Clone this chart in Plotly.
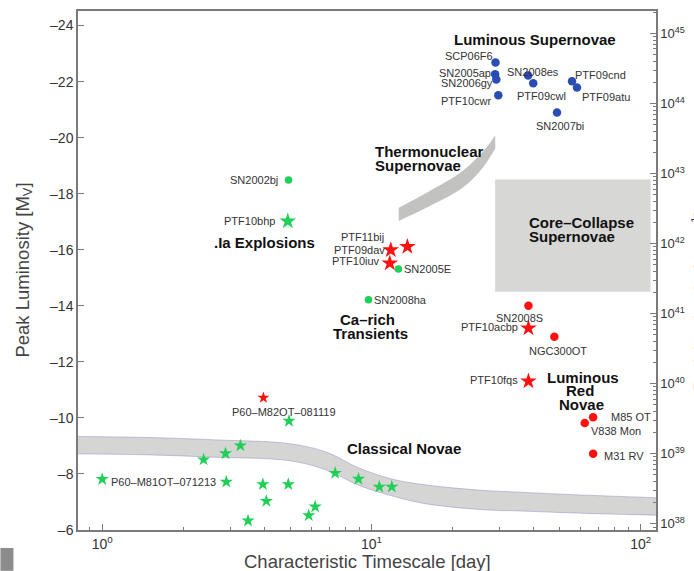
import numpy as np
import plotly.graph_objects as go

# ---------------- data (timescale [day], peak magnitude M_V) ----------------
# Luminous supernovae (blue circles)
lsn_names = ["SCP06F6", "SN2005ap", "SN2006gy", "PTF10cwr", "SN2008es",
             "PTF09cwl", "PTF09cnd", "PTF09atu", "SN2007bi"]
lsn_t = [28.9, 28.8, 29.1, 29.6, 38.2, 39.9, 55.6, 58.0, 48.9]
lsn_m = [-22.68, -22.26, -22.08, -21.51, -22.22, -21.94, -22.01, -21.79, -20.90]

# green circles
gc_names = ["SN2002bj", "SN2005E", "SN2008ha"]
gc_t = [4.92, 12.6, 9.75]
gc_m = [-18.49, -15.31, -14.22]

# green large star
gs_names = ["PTF10bhp"]
gs_t = [4.89]
gs_m = [-17.02]

# novae (small green stars)
nova_t = [1.0, 2.38, 2.87, 3.26, 2.89, 3.95, 4.07, 3.48, 4.94, 4.91,
          5.85, 6.18, 7.33, 8.95, 10.7, 11.9]
nova_m = [-7.81, -8.51, -8.73, -9.01, -7.72, -7.63, -7.03, -6.33, -9.89, -7.63,
          -6.52, -6.83, -8.03, -7.82, -7.54, -7.54]
nova_label_name = "P60\u2013M81OT\u2013071213"

# red large stars
rs_names = ["PTF11bij", "PTF09dav", "PTF10iuv", "PTF10acbp", "PTF10fqs"]
rs_t = [13.6, 11.8, 11.7, 38.3, 38.3]
rs_m = [-16.11, -15.99, -15.52, -13.20, -11.31]

# red small star
rss_names = ["P60\u2013M82OT\u2013081119"]
rss_t = [3.97]
rss_m = [-10.72]

# red circles
rc_names = ["SN2008S", "NGC300OT", "M85 OT", "V838 Mon", "M31 RV"]
rc_t = [38.3, 47.8, 66.6, 62.0, 66.6]
rc_m = [-14.00, -12.90, -10.02, -9.82, -8.72]

# classical novae band
cn_t = [0.75, 1.5, 2.57, 4.97, 6.8, 8.95, 11.9, 15.6, 25.4, 35.4, 60, 125]
cn_top = [-9.34, -9.30, -9.22, -9.08, -8.78, -8.22, -7.82, -7.62, -7.42, -7.35, -7.25, -7.14]
cn_bot = [-8.72, -8.68, -8.60, -8.47, -8.14, -7.60, -7.22, -6.95, -6.73, -6.68, -6.60, -6.52]

# thermonuclear supernovae band
tn_top_t = [12.63, 16.41, 21.81, 26.63, 28.83]
tn_top_m = [-17.50, -18.09, -18.81, -19.63, -20.09]
tn_bot_t = [12.63, 16.41, 21.81, 25.86, 28.83]
tn_bot_m = [-17.03, -17.55, -18.21, -18.92, -19.61]

# core-collapse box
cc_t = [28.8, 108.9]
cc_m = [-18.51, -14.50]

# axes
y_ticks = [-24, -22, -20, -18, -16, -14, -12, -10, -8, -6]
x_ticks = [1, 10, 100]
x_ticktext = ["10<sup>0</sup>", "10<sup>1</sup>", "10<sup>2</sup>"]
lum_exp = [38, 39, 40, 41, 42, 43, 44, 45]
M_at_1e38 = -6.22

# label placement: anchor, dx, dy (pixels, screen-down positive)
labels = {
    "SCP06F6": ("right", -1, -7), "SN2005ap": ("right", -2, -1),
    "SN2006gy": ("right", -1, 4), "PTF10cwr": ("right", -5, 6),
    "SN2008es": ("center", 4.5, -3), "PTF09cwl": ("center", 8, 13),
    "PTF09cnd": ("left", 1, -6), "PTF09atu": ("left", 3, 9),
    "SN2007bi": ("center", 3, 14),
    "SN2002bj": ("right", -9, 0), "PTF10bhp": ("right", -11, 0),
    "SN2005E": ("left", 4, 0), "SN2008ha": ("left", 4, 0),
    "PTF11bij": ("right", -21, -10), "PTF09dav": ("right", -4, 0),
    "PTF10iuv": ("right", -8, -2),
    "SN2008S": ("center", -8.5, 12), "PTF10acbp": ("right", -8, -1),
    "NGC300OT": ("center", 4, 14), "PTF10fqs": ("right", -8.6, -1),
    "M85 OT": ("left", 16, 0), "V838 Mon": ("left", 4, 8),
    "M31 RV": ("left", 9, 2),
    "P60\u2013M82OT\u2013081119": ("center", 20.5, 14.4),
    "P60\u2013M81OT\u2013071213": ("left", 7, 2.5),
}

# group labels (text, t, M, anchor)
group_labels = [
    ("Luminous Supernovae", 40.6, -23.50, "center"),
    ("Thermonuclear", 10.17, -19.52, "left"),
    ("Supernovae", 10.17, -19.02, "left"),
    ("Core\u2013Collapse", 37.97, -16.99, "left"),
    ("Supernovae", 37.97, -16.46, "left"),
    (".Ia Explosions", 3.99, -16.26, "center"),
    ("Ca\u2013rich", 9.70, -13.51, "center"),
    ("Transients", 9.96, -13.02, "center"),
    ("Luminous", 60.9, -11.45, "center"),
    ("Red", 59.3, -10.98, "center"),
    ("Novae", 60.3, -10.48, "center"),
    ("Classical Novae", 13.26, -8.90, "center"),
]

# ---------------- colours / styles ----------------
BLUE = "#2b4cb2"
GREEN = "#1fd057"
RED = "#ff1010"
AXC = "#7a7a7a"
TXT = "#333333"
FONT = "Liberation Sans, Arial, sans-serif"

YR = [-6, -24.52]

fig = go.Figure()

# bands
fig.add_trace(go.Scatter(x=cn_t, y=cn_bot, mode="lines", line=dict(color="rgba(130,130,200,0.55)", width=0.8, shape="spline"),
                         hoverinfo="skip", showlegend=False))
fig.add_trace(go.Scatter(x=cn_t, y=cn_top, mode="lines", line=dict(color="rgba(130,130,200,0.55)", width=0.8, shape="spline"),
                         fill="tonexty", fillcolor="#d5d5d3", hoverinfo="skip", showlegend=False))
fig.add_trace(go.Scatter(x=tn_bot_t, y=tn_bot_m, mode="lines", line=dict(color="rgba(0,0,0,0)", width=0, shape="spline"),
                         hoverinfo="skip", showlegend=False))
fig.add_trace(go.Scatter(x=tn_top_t, y=tn_top_m, mode="lines", line=dict(color="rgba(0,0,0,0)", width=0, shape="spline"),
                         fill="tonexty", fillcolor="#c2c2c0", hoverinfo="skip", showlegend=False))
fig.add_trace(go.Scatter(x=[cc_t[0], cc_t[1], cc_t[1], cc_t[0], cc_t[0]],
                         y=[cc_m[0], cc_m[0], cc_m[1], cc_m[1], cc_m[0]],
                         mode="lines", line=dict(width=0, color="rgba(0,0,0,0)"),
                         fill="toself", fillcolor="#d7d7d5", hoverinfo="skip", showlegend=False))

# markers
fig.add_trace(go.Scatter(x=nova_t, y=nova_m, mode="markers",
                         marker=dict(symbol="star", size=10, color=GREEN, line=dict(width=0)), showlegend=False))
fig.add_trace(go.Scatter(x=lsn_t, y=lsn_m, mode="markers",
                         marker=dict(symbol="circle", size=8.5, color=BLUE, line=dict(width=0)), showlegend=False))
fig.add_trace(go.Scatter(x=gc_t, y=gc_m, mode="markers",
                         marker=dict(symbol="circle", size=7.5, color=GREEN, line=dict(width=0)), showlegend=False))
fig.add_trace(go.Scatter(x=gs_t, y=gs_m, mode="markers",
                         marker=dict(symbol="star", size=12.5, color=GREEN, line=dict(width=0)), showlegend=False))
fig.add_trace(go.Scatter(x=rc_t, y=rc_m, mode="markers",
                         marker=dict(symbol="circle", size=8.5, color=RED, line=dict(width=0)), showlegend=False))
fig.add_trace(go.Scatter(x=rs_t, y=rs_m, mode="markers",
                         marker=dict(symbol="star", size=12.5, color=RED, line=dict(width=0)), showlegend=False))
fig.add_trace(go.Scatter(x=rss_t, y=rss_m, mode="markers",
                         marker=dict(symbol="star", size=9, color=RED, line=dict(width=0)), showlegend=False))
# dummy trace to activate the right axis
fig.add_trace(go.Scatter(x=[10], y=[-10], yaxis="y2", mode="markers",
                         marker=dict(opacity=0), hoverinfo="skip", showlegend=False))

annotations = []
def add_labels(names, ts, ms):
    for n, t, m in zip(names, ts, ms):
        anc, dx, dy = labels[n]
        annotations.append(dict(x=np.log10(t), y=m, xref="x", yref="y", text=n, showarrow=False,
                                xanchor=anc, yanchor="middle", xshift=dx, yshift=-dy,
                                font=dict(family=FONT, size=11, color=TXT)))

add_labels(lsn_names, lsn_t, lsn_m)
add_labels(gc_names, gc_t, gc_m)
add_labels(gs_names, gs_t, gs_m)
add_labels(rs_names, rs_t, rs_m)
add_labels(rss_names, rss_t, rss_m)
add_labels(rc_names, rc_t, rc_m)
add_labels([nova_label_name], nova_t[:1], nova_m[:1])

for txt, t, m, anc in group_labels:
    annotations.append(dict(x=np.log10(t), y=m, xref="x", yref="y", text="<b>" + txt + "</b>",
                            showarrow=False, xanchor=anc, yanchor="middle",
                            font=dict(family=FONT, size=15, color="#111111")))

# axis titles
annotations.append(dict(x=0.5, y=-0.0615, xref="paper", yref="paper",
                        text="Characteristic Timescale [day]", showarrow=False,
                        xanchor="center", yanchor="middle",
                        font=dict(family=FONT, size=18.5, color="#444444")))
annotations.append(dict(x=-0.095, y=0.5, xref="paper", yref="paper",
                        text="Peak Luminosity [M<sub>V</sub>]", showarrow=False, textangle=-90,
                        xanchor="center", yanchor="middle",
                        font=dict(family=FONT, size=18.5, color="#444444")))
annotations.append(dict(x=1.0735, y=0.44, xref="paper", yref="paper",
                        text="Peak Luminosity [erg s<sup>\u22121</sup>]", showarrow=False, textangle=-90,
                        xanchor="center", yanchor="middle",
                        font=dict(family=FONT, size=16, color="#444444")))

# right-axis tick values
r_tickvals = [M_at_1e38 - 2.5 * (k - 38) for k in lum_exp]
r_ticktext = ["10<sup>%d</sup>" % k for k in lum_exp]
r_minor = []
for k in range(37, 46):
    for f in range(2, 10):
        mm = M_at_1e38 - 2.5 * (k - 38 + np.log10(f))
        if min(YR) <= mm <= max(YR):
            r_minor.append(mm)

x_minor = [0.9] + [f * 10 ** e for e in (0, 1) for f in range(2, 10)]

fig.update_layout(
    width=694, height=571,
    margin=dict(l=78, r=37, t=9, b=41),
    paper_bgcolor="white", plot_bgcolor="white",
    font=dict(family=FONT, color=TXT),
    annotations=annotations,
    xaxis=dict(type="log", range=[-0.09, 2.057], tickvals=x_ticks, ticktext=x_ticktext,
               ticks="inside", ticklen=6, tickwidth=1, tickcolor=AXC,
               showline=True, linecolor=AXC, linewidth=1.5, mirror=True,
               showgrid=False, zeroline=False,
               tickfont=dict(family=FONT, size=14, color=TXT),
               minor=dict(tickmode="array", tickvals=x_minor, ticks="inside", ticklen=3,
                          tickcolor=AXC, showgrid=False)),
    yaxis=dict(range=YR, tickvals=y_ticks, ticktext=["\u2013%d" % abs(v) for v in y_ticks],
               ticks="inside", ticklen=6, tickwidth=1, tickcolor=AXC,
               showline=True, linecolor=AXC, linewidth=1.5, mirror=False,
               showgrid=False, zeroline=False,
               tickfont=dict(family=FONT, size=14, color=TXT)),
    yaxis2=dict(overlaying="y", side="right", range=YR, tickvals=r_tickvals, ticktext=r_ticktext,
                ticks="inside", ticklen=6, tickwidth=1, tickcolor=AXC,
                showline=True, linecolor=AXC, linewidth=1.5,
                showgrid=False, zeroline=False,
                tickfont=dict(family=FONT, size=13, color=TXT),
                minor=dict(tickmode="array", tickvals=r_minor, ticks="inside", ticklen=3,
                           tickcolor=AXC, showgrid=False)),
    shapes=[dict(type="rect", xref="paper", yref="paper", x0=-0.1342, x1=-0.1117, y0=-0.0787, y1=-0.0346,
                 fillcolor="#8c8c8c", line=dict(width=0), layer="above")],
)

fig.write_html("out.html", config={"displayModeBar": False},
               post_script="document.body.style.margin='0';document.body.style.overflow='hidden';")
